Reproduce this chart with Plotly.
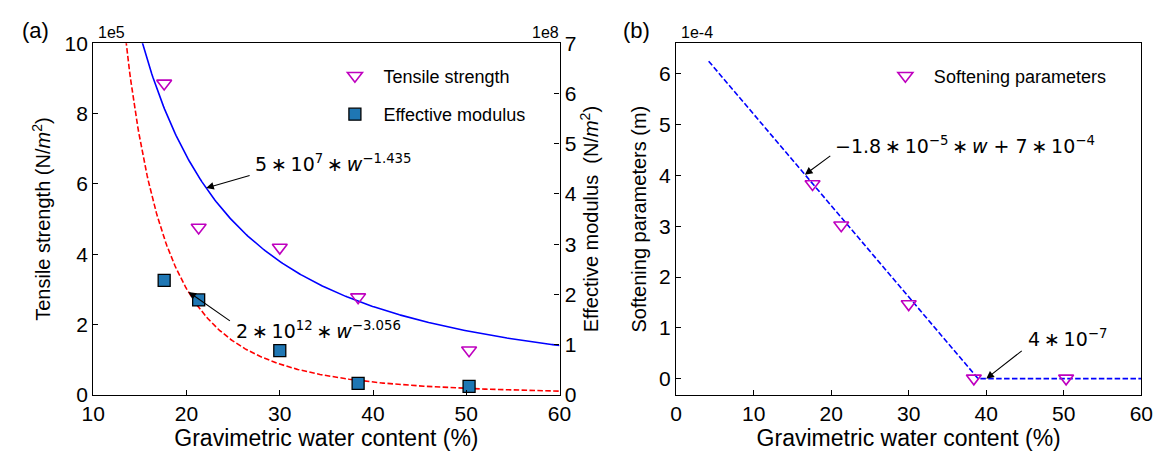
import numpy as np
import plotly.graph_objects as go

# ---------------- data ----------------
water_content = [17.6, 21.3, 30.0, 38.4, 50.3]          # %
tensile_strength_1e5 = [8.86, 4.76, 4.19, 2.78, 1.27]    # x1e5 N/m^2
effective_modulus_1e8 = [2.28, 1.89, 0.88, 0.23, 0.17]   # x1e8 N/m^2
softening_1e_4 = [3.83, 3.02, 1.47, 0.01, 0.01]          # x1e-4 m

left_xticks = [10, 20, 30, 40, 50, 60]
left_yticks = [0, 2, 4, 6, 8, 10]
right2_yticks = [0, 1, 2, 3, 4, 5, 6, 7]
right_xticks = [0, 10, 20, 30, 40, 50, 60]
right_yticks = [0, 1, 2, 3, 4, 5, 6]

# fitted curves
w_fit = np.linspace(10, 60, 400)
ts_fit = 5e7 * w_fit ** -1.435 / 1e5
em_fit = 2e12 * w_fit ** -3.056 / 1e8
w_soft = np.linspace(4.2, 60, 600)
soft_fit = np.maximum(-1.8e-5 * w_soft + 7e-4, 4e-7) / 1e-4

W, H = 1169, 460
def px(x):
    return x / W
def py(y):
    return 1 - y / H

MAG = "#bf00bf"
TXT = "Liberation Sans, Arial, sans-serif"
MATH = "DejaVu Sans, sans-serif"

fig = go.Figure()

fig.add_trace(go.Scatter(x=w_fit, y=ts_fit, mode="lines", line=dict(color="blue", width=1.6),
                         xaxis="x", yaxis="y", showlegend=False, hoverinfo="skip"))
fig.add_trace(go.Scatter(x=w_fit, y=em_fit, mode="lines", line=dict(color="red", width=1.6, dash="5.5px,2.4px"),
                         xaxis="x", yaxis="y2", showlegend=False, hoverinfo="skip"))
fig.add_trace(go.Scatter(x=water_content, y=tensile_strength_1e5, mode="markers", name="Tensile strength",
                         marker=dict(symbol="triangle-down-open", size=13, color=MAG, line=dict(width=1.6, color=MAG)),
                         xaxis="x", yaxis="y", legend="legend", legendgroup="a"))
fig.add_trace(go.Scatter(x=water_content, y=effective_modulus_1e8, mode="markers", name="Effective modulus",
                         marker=dict(symbol="square", size=12, color="#1f77b4", line=dict(width=1.3, color="black")),
                         xaxis="x", yaxis="y2", legend="legend", legendgroup="b"))

fig.add_trace(go.Scatter(x=w_soft, y=soft_fit, mode="lines", line=dict(color="blue", width=1.6, dash="5.5px,2.4px"),
                         xaxis="x2", yaxis="y3", showlegend=False, hoverinfo="skip"))
fig.add_trace(go.Scatter(x=water_content, y=softening_1e_4, mode="markers", name="Softening parameters",
                         marker=dict(symbol="triangle-down-open", size=13, color=MAG, line=dict(width=1.6, color=MAG)),
                         xaxis="x2", yaxis="y3", legend="legend2"))

axis_common = dict(showgrid=False, zeroline=False, showline=True, linecolor="black", linewidth=1.3,
                   ticks="inside", ticklen=5, tickwidth=1.2, tickcolor="black",
                   tickfont=dict(family=TXT, size=21, color="black"))
xtitle_font = dict(family=TXT, size=23, color="black")
ytitle_font = dict(family=TXT, size=20, color="black")

fig.update_layout(
    width=W, height=H,
    margin=dict(l=0, r=0, t=0, b=0),
    paper_bgcolor="white", plot_bgcolor="white",
    xaxis=dict(domain=[px(83), px(559)], range=[10, 60], tickvals=left_xticks, mirror=True, anchor="y",
               title=dict(text="Gravimetric water content (%)", font=xtitle_font, standoff=1), **axis_common),
    yaxis=dict(domain=[py(403), py(33)], range=[0, 10], tickvals=left_yticks, anchor="x",
               title=dict(text="Tensile strength (N/<i>m</i><sup>2</sup>)", font=ytitle_font, standoff=8), **axis_common),
    yaxis2=dict(range=[0, 7], tickvals=right2_yticks, overlaying="y", side="right", anchor="x",
                title=dict(text="Effective modulus  (N/<i>m</i><sup>2</sup>)", font=ytitle_font, standoff=7), **axis_common),
    xaxis2=dict(domain=[px(678), px(1153)], range=[0, 60], tickvals=right_xticks, mirror=True, anchor="y3",
                title=dict(text="Gravimetric water content (%)", font=xtitle_font, standoff=1), **axis_common),
    yaxis3=dict(domain=[py(403), py(33)], range=[-0.314, 6.594], tickvals=right_yticks, mirror=True, anchor="x2",
                title=dict(text="Softening parameters (m)", font=ytitle_font, standoff=7), **axis_common),
    legend=dict(x=px(321), y=py(48), xanchor="left", yanchor="top", bgcolor="rgba(0,0,0,0)",
                font=dict(family=TXT, size=18, color="black"), tracegroupgap=12, traceorder="grouped",
                itemwidth=47),
    legend2=dict(x=px(883), y=py(48), xanchor="left", yanchor="top", bgcolor="rgba(0,0,0,0)",
                 font=dict(family=TXT, size=18, color="black"), itemwidth=47),
    showlegend=True,
)

ann = []
# panel labels and offset texts
ann.append(dict(text="(a)", x=px(8), y=py(20), xref="paper", yref="paper", xanchor="left", yanchor="middle",
                showarrow=False, font=dict(family=TXT, size=22, color="black")))
ann.append(dict(text="(b)", x=px(622), y=py(20), xref="paper", yref="paper", xanchor="left", yanchor="middle",
                showarrow=False, font=dict(family=TXT, size=22, color="black")))
for t, xx, anch in [("1e5", 86, "left"), ("1e8", 560, "right"), ("1e-4", 681, "left")]:
    ann.append(dict(text=t, x=px(xx), y=py(22), xref="paper", yref="paper", xanchor=anch, yanchor="middle",
                    showarrow=False, font=dict(family=TXT, size=16, color="black")))

mfont = dict(family=MATH, size=19, color="black")
S = "\u2009"
OP = S + "∗" + S
# equation texts
ann.append(dict(text="5" + OP + "10<sup>7</sup>" + OP + "<i>w</i><sup>−1.435</sup>", x=27.1, y=6.6, xref="x", yref="y",
                xanchor="left", yanchor="middle", showarrow=False, font=mfont))
ann.append(dict(text="2" + OP + "10<sup>12</sup>" + OP + "<i>w</i><sup>−3.056</sup>", x=25.1, y=1.85, xref="x", yref="y",
                xanchor="left", yanchor="middle", showarrow=False, font=mfont))
ann.append(dict(text="−1.8" + OP + "10<sup>−5</sup>" + OP + "<i>w</i> + 7" + OP + "10<sup>−4</sup>", x=20.2, y=4.6,
                xref="x2", yref="y3", xanchor="left", yanchor="middle", showarrow=False, font=mfont))
ann.append(dict(text="4" + OP + "10<sup>−7</sup>", x=45.1, y=0.8, xref="x2", yref="y3",
                xanchor="left", yanchor="middle", showarrow=False, font=mfont))

# arrows (heads on the fitted curves)
def arrow(x, y, xr, yr, ax, ay):
    return dict(text="", x=x, y=y, xref=xr, yref=yr, ax=ax, ay=ay, axref="pixel", ayref="pixel",
                showarrow=True, arrowhead=2, arrowsize=1.4, arrowwidth=1.1, arrowcolor="black", standoff=0)

w1 = 22.1
ann.append(arrow(w1, 5e7 * w1 ** -1.435 / 1e5, "x", "y", 45, -13))
w2 = 20.2
ann.append(arrow(w2, 2e12 * w2 ** -3.056 / 1e8, "x", "y2", 43, 30))
w3 = 16.6
ann.append(arrow(w3, (-1.8e-5 * w3 + 7e-4) / 1e-4, "x2", "y3", 27, -20))
w4 = 40.0
ann.append(arrow(w4, 4e-7 / 1e-4, "x2", "y3", 37, -29))

fig.update_layout(annotations=ann)

fig.write_html("out.html")
